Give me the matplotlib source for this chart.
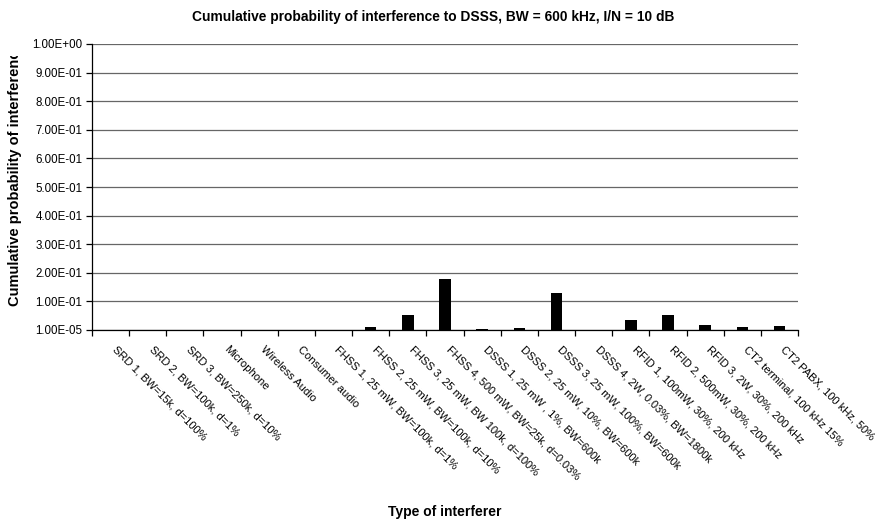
import numpy as np
import matplotlib
matplotlib.use("Agg")
import matplotlib.pyplot as plt
from matplotlib.transforms import Bbox

plt.rcParams['font.family'] = ['Liberation Sans', 'DejaVu Sans']

interferers = [
    "SRD 1, BW=15k, d=100%",
    "SRD 2, BW=100k, d=1%",
    "SRD 3, BW=250k, d=10%",
    "Microphone",
    "Wireless Audio",
    "Consumer audio",
    "FHSS 1, 25 mW, BW=100k, d=1%",
    "FHSS 2, 25 mW, BW=100k, d=10%",
    "FHSS 3, 25 mW, BW 100k, d=100%",
    "FHSS 4, 500 mW, BW=25k, d=0.03%",
    "DSSS 1, 25 mW , 1%, BW=600k",
    "DSSS 2, 25 mW, 10%, BW=600k",
    "DSSS 3, 25 mW, 100%, BW=600k",
    "DSSS 4, 2W, 0.03%, BW=1800k",
    "RFID 1, 100mW, 30%, 200 kHz",
    "RFID 2, 500mW, 30%, 200 kHz",
    "RFID 3, 2W, 30%, 200 kHz",
    "CT2 terminal, 100 kHz 15%",
    "CT2 PABX, 100 kHz, 50%",
]
prob = [0, 0, 0, 0, 0, 0, 0.001, 0.011, 0.054, 0.180,
        0.0035, 0.006, 0.130, 0, 0.034, 0.053, 0.018, 0.0095, 0.013]

ymin = 1e-5
yticks = [ymin] + [0.1 * k for k in range(1, 11)]

fig = plt.figure(figsize=(8.84, 5.22), dpi=100)
ax = fig.add_axes([92 / 884, 192 / 522, 706 / 884, 286 / 522])

x = np.arange(len(interferers))
ax.bar(x, prob, width=0.31, color='black', zorder=3)

ax.set_xlim(-0.5, len(interferers) - 0.5)
ax.set_ylim(ymin, 1.0)
ax.set_yticks(yticks)
ax.set_yticklabels(['%.2E' % v for v in yticks], fontsize=8.3)
ax.yaxis.grid(True, color='#666666', linewidth=0.9, zorder=0)

# category boundary ticks, labels sit under the bar centres
ax.set_xticks(np.arange(len(interferers) + 1) - 0.5)
ax.set_xticklabels([])
ax.tick_params(axis='x', direction='out', length=4, width=0.9, color='black')
ax.tick_params(axis='y', direction='out', length=4, width=0.9, color='black', pad=3)
for xi, name in zip(x, interferers):
    ax.text(xi + 0.18, -0.05, name, transform=ax.get_xaxis_transform(),
            rotation=-45, rotation_mode='anchor', ha='left', va='top', fontsize=8)

for side in ['top', 'right']:
    ax.spines[side].set_visible(False)
ax.spines['left'].set_linewidth(0.9)
ax.spines['bottom'].set_linewidth(0.9)

fig.text(433 / 884, 1 - 17 / 522,
         "Cumulative probability of interference to DSSS, BW = 600 kHz, I/N = 10 dB",
         ha='center', va='center', fontsize=9.9, fontweight='bold')
fig.text(445 / 884, 1 - 512 / 522, "Type of interferer",
         ha='center', va='center', fontsize=10, fontweight='bold')

# y title is longer than the plot height, so it is cut off at the top
ylab = fig.text(15 / 884, 1 - 306 / 522, "Cumulative probability of interference",
                ha='center', va='bottom', rotation=90, fontsize=10.5, fontweight='bold')
ylab.set_clip_box(Bbox.from_extents(0, 0, 884, 522 - 56))
ylab.set_clip_on(True)

fig.savefig("out.png", dpi=100)
